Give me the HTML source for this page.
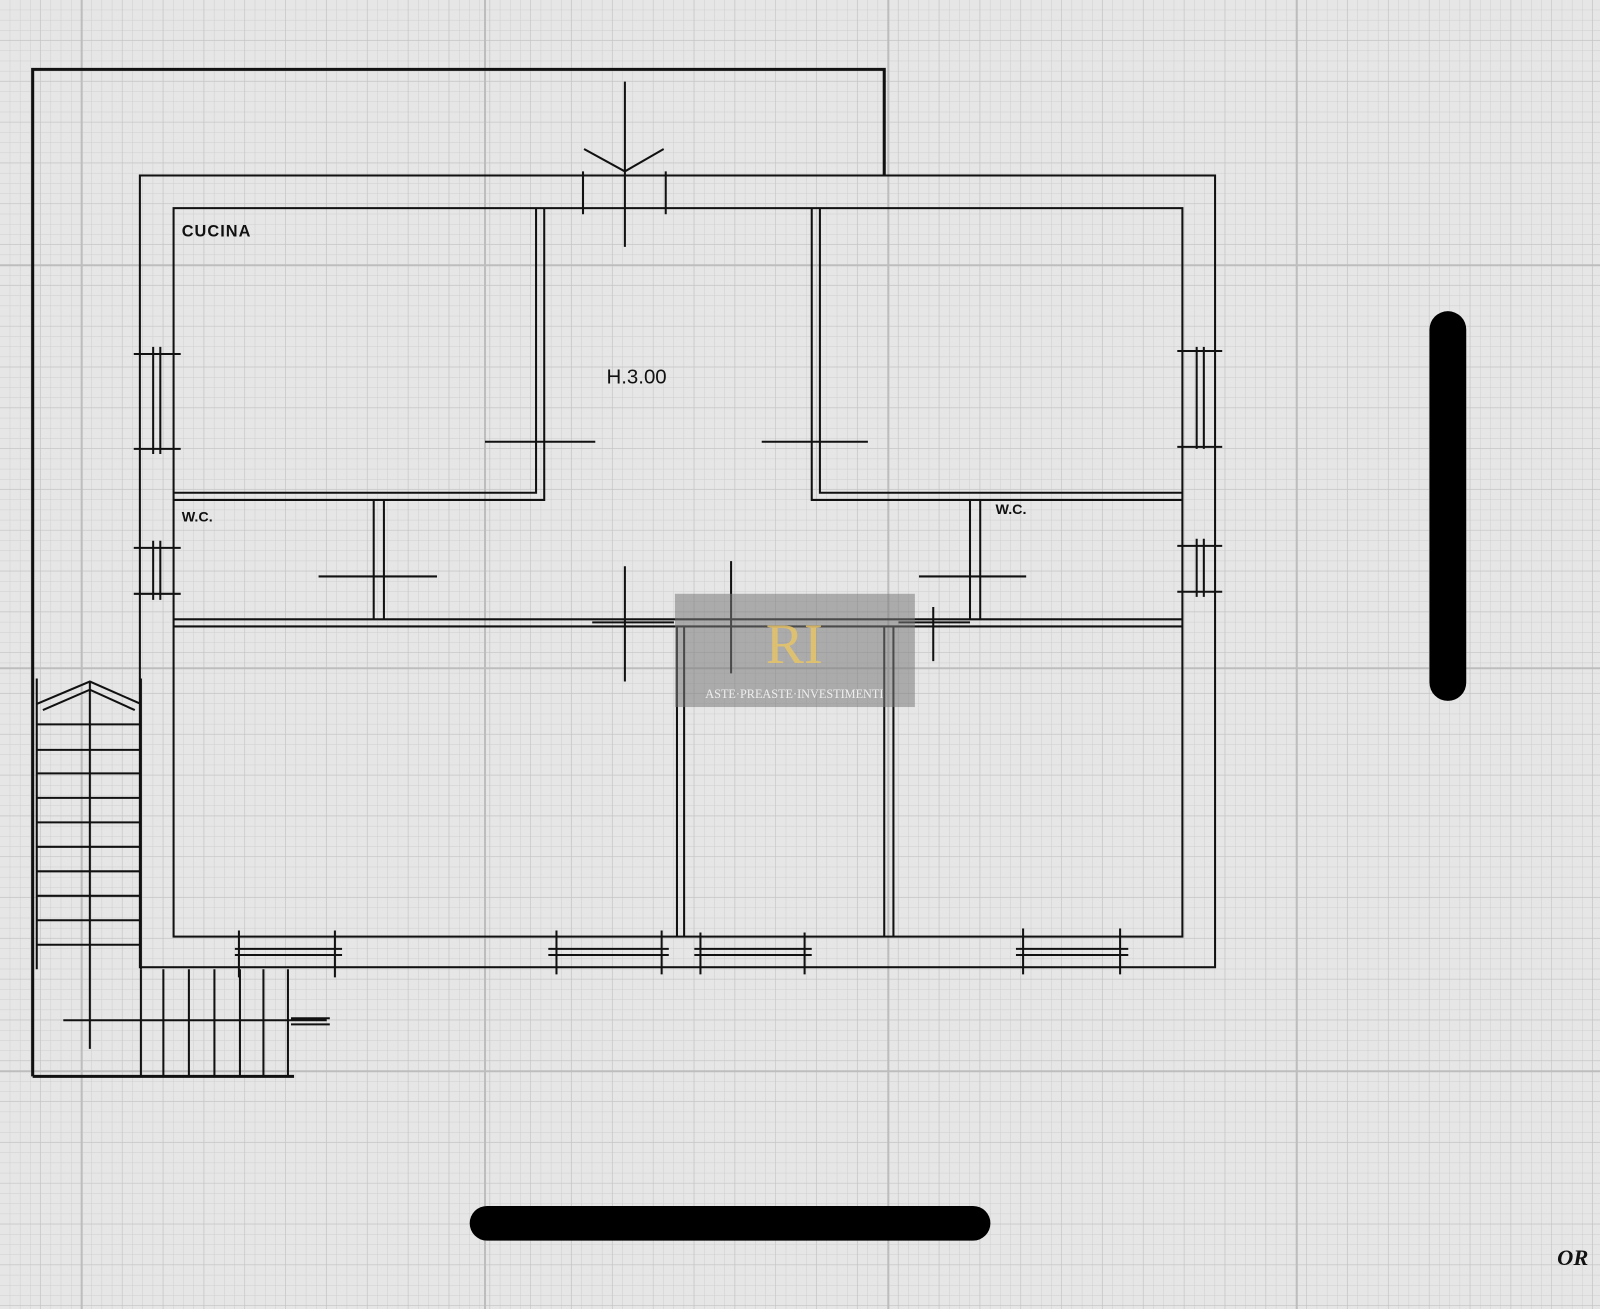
<!DOCTYPE html>
<html><head><meta charset="utf-8"><style>
html,body{margin:0;padding:0;background:#e3e3e3;}
svg{display:block}
</style></head><body>
<svg width="1600" height="1309" viewBox="0 0 1567 1283" preserveAspectRatio="none" xmlns="http://www.w3.org/2000/svg">
<defs>
<pattern id="fine" width="10" height="10" patternUnits="userSpaceOnUse">
<path d="M10 0V10M0 10H10" stroke="#cfcfcf" stroke-width="1" fill="none"/>
</pattern>
<pattern id="mid" width="40" height="40" patternUnits="userSpaceOnUse">
<path d="M40 0V40M0 40H40" stroke="#c4c4c4" stroke-width="1.2" fill="none"/>
</pattern>
</defs>
<rect width="1567" height="1283" fill="#e6e6e6"/>
<rect width="1567" height="1283" fill="url(#fine)"/>
<rect width="1567" height="1283" fill="url(#mid)"/>
<g stroke="#bdbdbd" stroke-width="2">
<line x1="80" y1="0" x2="80" y2="1283"/><line x1="475" y1="0" x2="475" y2="1283"/>
<line x1="870" y1="0" x2="870" y2="1283"/><line x1="1270" y1="0" x2="1270" y2="1283"/>
<line x1="0" y1="260" x2="1567" y2="260"/><line x1="0" y1="655" x2="1567" y2="655"/>
<line x1="0" y1="1050" x2="1567" y2="1050"/>
</g>
<g stroke="#111" fill="none" stroke-width="2">
<!-- outer boundary -->
<path d="M32 1055V68H866V172" stroke-width="3"/>
<path d="M32 1055H288" stroke-width="3"/>
<!-- building -->
<rect x="137" y="172" width="1053" height="776"/>
<rect x="170" y="204" width="988" height="714"/>
<!-- interior walls -->
<path d="M525 204V483H170M533 204V490H170"/>
<path d="M795 204V490H1158M803 204V483H1158"/>
<path d="M170 607H1158M170 614H1158"/>
<path d="M366 490V607M376 490V607"/>
<path d="M950 490V607M960 490V607"/>
<path d="M663 614V918M670 614V918"/>
<path d="M866 614V918M875 614V918"/>
<!-- door swings -->
<path d="M475 433H583M746 433H850M312 565H428M900 565H1005"/>
<path d="M612 555V668M716 550V660M914 595V648"/>
<path d="M612 80V242M571 168V210M652 168V210M572 146L612 168L650 146"/>
<!-- windows -->
<path d="M150 340V445M157 340V445M131 347H177M131 440H177"/>
<path d="M150 530V588M157 530V588M131 537H177M131 582H177"/>
<path d="M1172 340V440M1179 340V440M1153 344H1197M1153 438H1197"/>
<path d="M1172 528V585M1179 528V585M1153 535H1197M1153 580H1197"/>
<path d="M230 930H335M230 936H335M234 912V958M328 912V958"/>
<path d="M537 930H655M537 936H655M545 912V955M648 912V955"/>
<path d="M680 930H795M680 936H795M686 914V955M788 914V955"/>
<path d="M995 930H1105M995 936H1105M1002 910V955M1097 910V955"/>
<path d="M580 610H660M880 610H950"/>
<!-- stairs -->
<path d="M36 665V950M138 665V950"/>
<path d="M36 690L88 668L138 690M42 696L88 676L132 696M88 668V1028"/>
<path d="M138 950V1055M160 950V1055M185 950V1055M210 950V1055M235 950V1055M258 950V1055M282 950V1055"/>
<path d="M62 1000H320M285 998H323M285 1004H323"/>
</g>
<g stroke="#111" stroke-width="2">
<line x1="36" y1="710" x2="138" y2="710"/><line x1="36" y1="735" x2="138" y2="735"/>
<line x1="36" y1="758" x2="138" y2="758"/><line x1="36" y1="782" x2="138" y2="782"/>
<line x1="36" y1="806" x2="138" y2="806"/><line x1="36" y1="830" x2="138" y2="830"/>
<line x1="36" y1="854" x2="138" y2="854"/><line x1="36" y1="878" x2="138" y2="878"/>
<line x1="36" y1="902" x2="138" y2="902"/><line x1="36" y1="926" x2="138" y2="926"/>
</g>
<rect x="460" y="1182" width="510" height="34" rx="17" fill="#000"/>
<rect x="1400" y="305" width="36" height="382" rx="18" fill="#000"/>
<rect x="661" y="582" width="235" height="111" fill="#7a7a7a" opacity="0.55"/>
<text x="778" y="650" font-family="Liberation Serif, serif" font-size="56" fill="#e8c468" text-anchor="middle" opacity="0.85">RI</text>
<text x="778" y="684" font-family="Liberation Serif, serif" font-size="12" fill="#eee" text-anchor="middle">ASTE·PREASTE·INVESTIMENTI</text>
<g font-family="Liberation Sans, sans-serif" fill="#111" font-weight="bold">
<text x="178" y="232" font-size="16" letter-spacing="1">CUCINA</text>
<text x="594" y="376" font-size="20" font-weight="normal">H.3.00</text>
<text x="178" y="511" font-size="14">W.C.</text>
<text x="975" y="504" font-size="14">W.C.</text>
</g>
<text x="1525" y="1240" font-family="Liberation Serif, serif" font-style="italic" font-weight="bold" font-size="22" fill="#111">OR</text>
</svg>
</body></html>
